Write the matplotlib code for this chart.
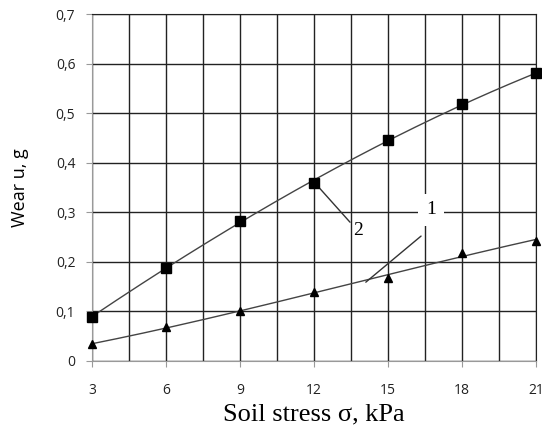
import numpy as np
import matplotlib.pyplot as plt
from matplotlib.ticker import MultipleLocator, FixedLocator

# data
stress = [3, 6, 9, 12, 15, 18, 21]
wear2 = [0.089, 0.188, 0.282, 0.360, 0.446, 0.518, 0.580]   # squares, curve 2
wear1 = [0.034, 0.068, 0.101, 0.139, 0.167, 0.218, 0.243]   # triangles, curve 1
yticks = [0, 0.1, 0.2, 0.3, 0.4, 0.5, 0.6, 0.7]
ylabels = ["0", "0,1", "0,2", "0,3", "0,4", "0,5", "0,6", "0,7"]

fig = plt.figure(figsize=(5.42, 4.38), dpi=100)
ax = fig.add_axes([92/542, 1-361/438, 444/542, 347/438])

# smooth trend lines through the points
xs = np.linspace(3, 21, 200)
c2 = np.polyfit(stress, wear2, 3)
c1 = np.polyfit(stress, wear1, 3)
ax.plot(xs, np.polyval(c2, xs), color="#444444", lw=1, zorder=3)
ax.plot(xs, np.polyval(c1, xs), color="#444444", lw=1, zorder=3)
ax.plot(stress, wear2, "s", color="black", ms=7.5, zorder=4, clip_on=False)
ax.plot(stress, wear1, "^", color="black", ms=6, zorder=4, clip_on=False)

ax.set_xlim(3, 21)
ax.set_ylim(0, 0.7)
ax.xaxis.set_major_locator(FixedLocator(stress))
ax.xaxis.set_minor_locator(MultipleLocator(1.5))
ax.set_yticks(yticks)
ax.set_yticklabels(ylabels)
ax.grid(True, which="both", color="#222222", lw=1)
ax.tick_params(which="major", length=4, color="#999999", labelsize=10, pad=8)
ax.tick_params(axis="x", which="major", pad=12)
ax.tick_params(which="minor", length=0)
for lab in ax.get_xticklabels() + ax.get_yticklabels():
    lab.set_family("Open Sans")
    lab.set_color("#222222")
for s in ["top", "right"]:
    ax.spines[s].set_color("#222222")
for s in ["left", "bottom"]:
    ax.spines[s].set_color("#999999")

ax.set_xlabel("Soil stress σ, kPa", family="Liberation Serif", fontsize=19, labelpad=4)
ax.set_ylabel("Wear u, g", family="Open Sans", fontsize=13, labelpad=19)

# leader lines and curve numbers
ax.annotate("", xy=(12.04, 0.359), xytext=(13.46, 0.280),
            arrowprops=dict(arrowstyle="-", color="#333333", lw=1,
                            shrinkA=0, shrinkB=0), zorder=3)
ax.text(13.8, 0.264, "2", family="Liberation Serif", fontsize=14,
        ha="center", va="center", zorder=5)
ax.annotate("", xy=(14.1, 0.159), xytext=(16.34, 0.252),
            arrowprops=dict(arrowstyle="-", color="#333333", lw=1,
                            shrinkA=0, shrinkB=0), zorder=3)
ax.text(16.74, 0.305, "1", family="Liberation Serif", fontsize=14,
        ha="center", va="center", zorder=5,
        bbox=dict(boxstyle="square,pad=0.4", fc="white", ec="none"))

fig.savefig("out.png", dpi=100)
